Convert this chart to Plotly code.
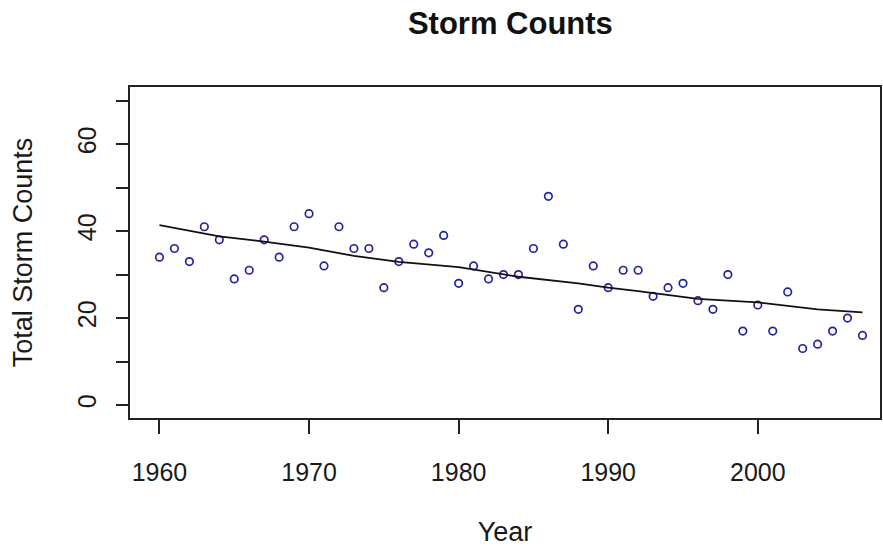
import plotly.graph_objects as go

years = list(range(1960, 2008))
storm_counts = [34, 36, 33, 41, 38, 29, 31, 38, 34, 41,
                44, 32, 41, 36, 36, 27, 33, 37, 35, 39,
                28, 32, 29, 30, 30, 36, 48, 37, 22, 32,
                27, 31, 31, 25, 27, 28, 24, 22, 30, 17,
                23, 17, 26, 13, 14, 17, 20, 16]

trend_years = [1960, 1964, 1967, 1970, 1973, 1975, 1976, 1980, 1984, 1988,
               1990, 1992, 1996, 2000, 2004, 2007]
trend_values = [41.4, 38.8, 37.6, 36.2, 34.3, 33.4, 32.9, 31.7, 29.5, 28.0,
                27.0, 26.2, 24.4, 23.6, 22.0, 21.3]

x_ticks = [1960, 1970, 1980, 1990, 2000]
y_ticks = [0, 10, 20, 30, 40, 50, 60, 70]
y_tick_text = ["0", "", "20", "", "40", "", "60", ""]

FONT = "Liberation Sans, Arial, sans-serif"

fig = go.Figure()
fig.add_trace(go.Scatter(
    x=years, y=storm_counts, mode="markers",
    marker=dict(symbol="circle-open", size=7.5, color="#24249c",
                line=dict(width=1.7, color="#24249c")),
    showlegend=False, hoverinfo="x+y"))
fig.add_trace(go.Scatter(
    x=trend_years, y=trend_values, mode="lines",
    line=dict(color="#111111", width=1.8), showlegend=False))

fig.update_layout(
    width=883, height=547,
    margin=dict(l=130, r=1, t=87, b=129),
    paper_bgcolor="white", plot_bgcolor="white",
    font=dict(family=FONT, color="#1a1a1a", size=25),
    title=dict(text="<b>Storm Counts</b>", x=0.578, xanchor="center",
               y=1 - 23 / 547, yanchor="middle", yref="container",
               font=dict(size=31, family=FONT, color="#111")),
)
fig.update_xaxes(
    range=[1958.03, 2008.17], tickvals=x_ticks, showgrid=False, zeroline=False,
    showline=True, mirror=True, linecolor="#222", linewidth=1.5,
    ticks="outside", ticklen=14, tickwidth=1.5, tickcolor="#222",
    ticklabelstandoff=17,
    title=dict(text="Year", standoff=38, font=dict(size=27)))
fig.update_yaxes(
    range=[-2.99, 73.15], tickvals=y_ticks, ticktext=y_tick_text, tickangle=-90,
    showgrid=False, zeroline=False,
    showline=True, mirror=True, linecolor="#222", linewidth=1.5,
    ticks="outside", ticklen=12, tickwidth=1.5, tickcolor="#222",
    ticklabelstandoff=10,
    title=dict(text="Total Storm Counts", standoff=33, font=dict(size=27)))

fig.write_html("out.html")
